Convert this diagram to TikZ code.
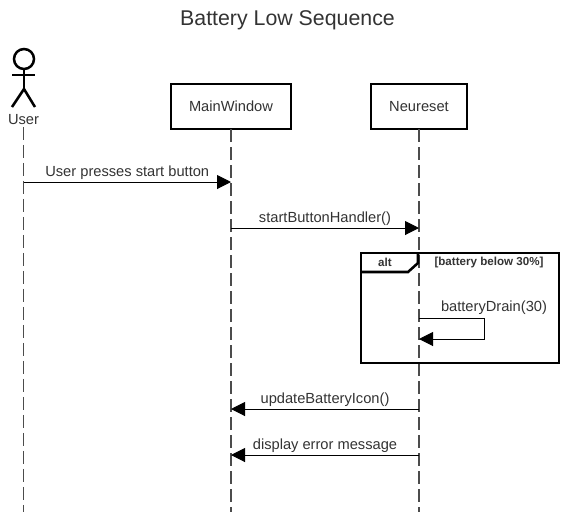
\documentclass[tikz,border=0pt]{standalone}
\usepackage{fontspec}
\setmainfont{Liberation Sans}
\usetikzlibrary{arrows.meta}
\usetikzlibrary{positioning}
\definecolor{inkgray}{HTML}{333333}

\begin{document}
\begin{tikzpicture}[
x=0.75pt, y=-0.75pt,
lifebox/.style={rectangle, draw=black, fill=white, line width=1.9pt, minimum height=33.75pt, outer sep=0pt, text=inkgray, font=\fontsize{11}{13}\selectfont},
lifeline/.style={draw=black!70, line width=1pt, dash pattern=on 9.75pt off 3.75pt},
msg/.style={line width=0.75pt, -{Triangle[length=10.5pt,width=10.5pt]}},
msglabel/.style={midway, above, inner sep=1.4pt, text=inkgray, font=\fontsize{11}{13}\selectfont},
actorline/.style={line width=1.9pt},
]
\useasboundingbox (0,0) rectangle (575,512);
%Nodes
\node[font=\fontsize{16}{19}\selectfont, text=inkgray] (title) at (287.5,20) {Battery Low Sequence};
\node[inner sep=0pt, text=inkgray, font=\fontsize{11}{13}\selectfont] (user) at (23.5,119.5) {User};
\node[lifebox, minimum width=90pt] (main) at (231,106.5) {MainWindow};
\node[lifebox, minimum width=72pt] (neu) [right=60pt of main] {Neureset};
%Actor
\draw[actorline] (24,59) circle (7.5pt);
\draw[actorline] (24,69) -- (24,89) (12,75) -- (35,75);
\draw[actorline] (12,107) -- (24,89) -- (35,107);
%Lifelines
\coordinate (userend) at (23.5,512);
\draw[lifeline] (user.south) ++(0,2) -- (userend);
\draw[lifeline] (main.south) -- (main.south |- userend);
\draw[lifeline] (neu.south) -- (neu.south |- userend);
%Frame
\node[draw=black, line width=1.9pt, minimum width=148.5pt, minimum height=82.5pt, outer sep=0pt] (altframe) at (460,308) {};
\draw[line width=1.9pt] (altframe.north west |- 0,272) -- (408,272) -- (418,263) -- (418,253);
\node[font=\bfseries\fontsize{8.7}{10}\selectfont, text=inkgray] (altlabel) at (385,262) {alt};
\node[font=\bfseries\fontsize{8.7}{10}\selectfont, text=inkgray] (altguard) at (489,262) {[battery below 30\%]};
%Lines
\coordinate (a1) at (user.south |- 0,182);
\coordinate (b1) at (main.south |- 0,182);
\coordinate (a2) at (main.south |- 0,228);
\coordinate (b2) at (neu.south |- 0,228);
\coordinate (a3) at (neu.south |- 0,409);
\coordinate (b3) at (main.south |- 0,409);
\coordinate (a4) at (neu.south |- 0,455);
\coordinate (b4) at (main.south |- 0,455);
\coordinate (s1) at (neu.south |- 0,318);
\coordinate (s2) at (neu.south |- 0,339);
\draw[msg] (a1) -- node[msglabel] {User presses start button} (b1);
\draw[msg] (a2) -- node[msglabel] {startButtonHandler()} (b2);
\draw[msg] (a3) -- node[msglabel] {updateBatteryIcon()} (b3);
\draw[msg] (a4) -- node[msglabel] {display error message} (b4);
\draw[msg] (s1) -- (484,318) -- (484,339) -- (s2);
\node[inner sep=0pt, text=inkgray, font=\fontsize{11}{13}\selectfont] (drainlabel) at (494,308) {batteryDrain(30)};
\end{tikzpicture}
\end{document}
